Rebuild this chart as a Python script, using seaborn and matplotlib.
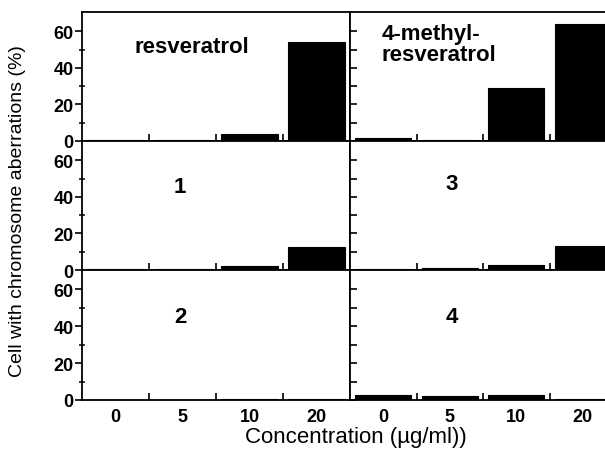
import matplotlib
matplotlib.use('Agg')
import matplotlib.pyplot as plt
import seaborn as sns
from matplotlib.ticker import FixedLocator

sns.set_theme(style='white')
plt.rcParams['font.family'] = ['Liberation Sans', 'DejaVu Sans']

# ---- data ----
concentrations = ['0', '5', '10', '20']
resveratrol = [0.8, 0.6, 3.8, 54]
methyl_resveratrol = [1.5, 0.7, 29, 64]
compound_1 = [0.3, 0.6, 2.0, 12.5]
compound_3 = [0.4, 0.9, 2.8, 13.3]
compound_2 = [0.1, 0.1, 0.6, 0.3]
compound_4 = [2.6, 2.2, 2.6, 0.7]
panel_labels = ['resveratrol', '4-methyl-\nresveratrol', '1', '3', '2', '4']
y_ticks = [0, 20, 40, 60]
x_label = 'Concentration (\u00b5g/ml))'
y_label = 'Cell with chromosome aberrations (%)'

panels = [[resveratrol, methyl_resveratrol],
          [compound_1, compound_3],
          [compound_2, compound_4]]
labels_grid = [[panel_labels[0], panel_labels[1]],
               [panel_labels[2], panel_labels[3]],
               [panel_labels[4], panel_labels[5]]]

W, H = 605, 456
fig = plt.figure(figsize=(W / 100, H / 100), dpi=100)
fig.patch.set_facecolor('white')

col_x = [(82, 268), (350, 266)]
row_y = [(13, 142), (142, 271), (271, 401)]

label_pos = [[(0.41, 0.73, 'center'), (0.12, 0.75, 'left')],
             [(0.366, 0.65, 'center'), (0.383, 0.667, 'center')],
             [(0.366, 0.64, 'center'), (0.383, 0.646, 'center')]]

for r in range(3):
    for c in range(2):
        x0, w = col_x[c]
        top, bot = row_y[r]
        ax = fig.add_axes([x0 / W, (H - bot) / H, w / W, (bot - top) / H])
        ax.set_facecolor('white')
        sns.barplot(x=concentrations, y=panels[r][c], order=concentrations,
                    color='black', saturation=1, width=0.84, ax=ax,
                    edgecolor='black', linewidth=0.8)
        ax.set_xlim(-0.5, 3.5)
        ax.set_ylim(0, 70.5)
        ax.set_xlabel('')
        ax.set_ylabel('')
        for sp in ax.spines.values():
            sp.set_visible(True)
            sp.set_color('black')
            sp.set_linewidth(1.3)
        # x ticks
        ax.set_xticks(range(len(concentrations)))
        if r == 2:
            ax.set_xticklabels(concentrations, fontsize=13, fontweight='bold')
        else:
            ax.set_xticklabels([])
        ax.tick_params(axis='x', which='major', length=0, pad=6,
                       colors='black', bottom=True)
        ax.xaxis.set_minor_locator(FixedLocator([0.5, 1.5, 2.5]))
        ax.tick_params(axis='x', which='minor', direction='in', length=5,
                       width=1.2, color='black', bottom=True)
        # y ticks
        if c == 0:
            ax.set_yticks(y_ticks)
            ax.set_yticklabels([str(v) for v in y_ticks], fontsize=13,
                               fontweight='bold')
            ax.tick_params(axis='y', which='major', direction='out', length=5,
                           width=1.2, pad=1, colors='black', left=True)
            ax.yaxis.set_minor_locator(FixedLocator([10, 30, 50]))
            ax.tick_params(axis='y', which='minor', direction='inout',
                           length=4, width=1.1, color='black', left=True)
        else:
            ax.set_yticks([0, 10, 20, 30, 40, 50, 60])
            ax.tick_params(axis='y', which='major', direction='in', length=5,
                           width=1.2, color='black', left=True,
                           labelleft=False)
        lx, ly, ha = label_pos[r][c]
        ax.text(lx, ly, labels_grid[r][c], transform=ax.transAxes,
                fontsize=16, fontweight='bold', ha=ha, va='center',
                linespacing=1.0, color='black')

fig.text(18 / W, 1 - 211 / H, y_label, rotation=90, fontsize=14,
         ha='center', va='center', color='black')
fig.text(356 / W, 1 - 438 / H, x_label, fontsize=16,
         ha='center', va='center', color='black')

fig.savefig('out.png', dpi=100, facecolor='white')
